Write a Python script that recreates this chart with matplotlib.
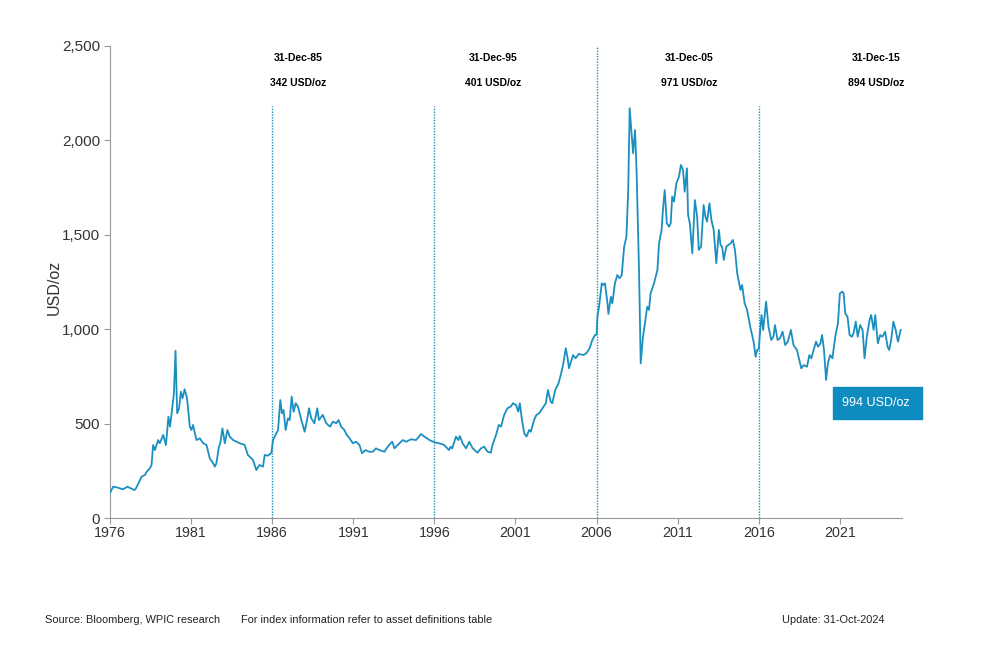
import matplotlib
matplotlib.use("Agg")
import matplotlib.pyplot as plt
from matplotlib.patches import Rectangle

plt.rcParams['font.family'] = ['Liberation Sans', 'DejaVu Sans']

# Monthly platinum price (decimal year, USD/oz)
years = [
    1976.00, 1976.20, 1976.40, 1976.80, 1977.07, 1977.50, 1977.60, 1977.95, 1978.15, 1978.26,
    1978.46, 1978.56, 1978.66, 1978.77, 1978.97, 1979.07, 1979.28, 1979.45, 1979.60, 1979.70,
    1979.80, 1979.94, 1980.04, 1980.14, 1980.26, 1980.37, 1980.47, 1980.60, 1980.75, 1980.92,
    1981.02, 1981.12, 1981.33, 1981.54, 1981.74, 1981.95, 1982.15, 1982.36, 1982.46, 1982.56,
    1982.72, 1982.80, 1982.93, 1983.08, 1983.24, 1983.38, 1983.59, 1984.00, 1984.30, 1984.50,
    1984.82, 1985.02, 1985.22, 1985.43, 1985.54, 1985.74, 1985.95, 1986.05, 1986.15, 1986.36,
    1986.50, 1986.60, 1986.70, 1986.83, 1986.97, 1987.08, 1987.20, 1987.32, 1987.45, 1987.59,
    1987.80, 1988.00, 1988.15, 1988.27, 1988.41, 1988.60, 1988.78, 1988.88, 1989.12, 1989.33,
    1989.57, 1989.74, 1989.95, 1990.09, 1990.25, 1990.45, 1990.60, 1990.77, 1990.97, 1991.17,
    1991.38, 1991.54, 1991.74, 1991.98, 1992.20, 1992.40, 1992.61, 1992.92, 1993.12, 1993.40,
    1993.54, 1993.74, 1994.05, 1994.26, 1994.56, 1994.87, 1995.18, 1995.38, 1995.70, 1996.00,
    1996.30, 1996.60, 1996.90, 1997.00, 1997.10, 1997.33, 1997.47, 1997.57, 1997.74, 1997.95,
    1998.15, 1998.36, 1998.66, 1998.87, 1999.07, 1999.28, 1999.48, 1999.58, 1999.80, 1999.97,
    2000.11, 2000.30, 2000.50, 2000.70, 2000.85, 2001.03, 2001.17, 2001.27, 2001.40, 2001.54,
    2001.68, 2001.84, 2001.94, 2002.15, 2002.29, 2002.46, 2002.66, 2002.87, 2003.00, 2003.17,
    2003.27, 2003.45, 2003.65, 2003.79, 2003.93, 2004.10, 2004.20, 2004.30, 2004.42, 2004.55,
    2004.70, 2004.90, 2005.20, 2005.40, 2005.57, 2005.74, 2005.90, 2006.00, 2006.05, 2006.15,
    2006.32, 2006.42, 2006.52, 2006.67, 2006.73, 2006.88, 2006.97, 2007.13, 2007.28, 2007.42,
    2007.55, 2007.70, 2007.84, 2007.95, 2008.04, 2008.17, 2008.25, 2008.37, 2008.47, 2008.62,
    2008.72, 2008.86, 2008.98, 2009.12, 2009.23, 2009.33, 2009.54, 2009.75, 2009.85, 2010.01,
    2010.09, 2010.20, 2010.33, 2010.47, 2010.57, 2010.66, 2010.77, 2010.92, 2011.08, 2011.20,
    2011.33, 2011.43, 2011.57, 2011.64, 2011.75, 2011.90, 2012.06, 2012.20, 2012.30, 2012.44,
    2012.60, 2012.71, 2012.81, 2012.96, 2013.08, 2013.22, 2013.38, 2013.54, 2013.64, 2013.74,
    2013.84, 2014.00, 2014.12, 2014.27, 2014.40, 2014.53, 2014.67, 2014.87, 2014.97, 2015.13,
    2015.28, 2015.49, 2015.59, 2015.70, 2015.80, 2015.90, 2016.00, 2016.07, 2016.17, 2016.27,
    2016.45, 2016.60, 2016.77, 2016.90, 2017.00, 2017.16, 2017.31, 2017.47, 2017.63, 2017.79,
    2017.98, 2018.14, 2018.35, 2018.50, 2018.62, 2018.77, 2018.97, 2019.12, 2019.24, 2019.38,
    2019.53, 2019.65, 2019.80, 2019.90, 2020.02, 2020.15, 2020.26, 2020.40, 2020.54, 2020.73,
    2020.88, 2021.00, 2021.15, 2021.23, 2021.33, 2021.47, 2021.60, 2021.74, 2021.84, 2021.98,
    2022.10, 2022.25, 2022.40, 2022.52, 2022.66, 2022.83, 2022.93, 2023.08, 2023.18, 2023.34,
    2023.48, 2023.62, 2023.79, 2023.94, 2024.04, 2024.16, 2024.30, 2024.44, 2024.58, 2024.75,
]
prices = [
    134, 166, 163, 152, 166, 148, 157, 219, 228, 245,
    263, 281, 387, 360, 413, 396, 440, 387, 537, 484,
    555, 660, 886, 555, 581, 669, 634, 682, 634, 484,
    466, 493, 413, 422, 396, 387, 316, 290, 272, 290,
    378, 396, 475, 396, 466, 431, 413, 396, 387, 334,
    307, 254, 281, 272, 334, 330, 345, 413, 431, 466,
    625, 555, 572, 466, 528, 519, 643, 563, 608, 590,
    519, 457, 519, 581, 528, 502, 581, 519, 546, 502,
    484, 510, 502, 519, 484, 466, 440, 422, 396, 404,
    387, 343, 360, 351, 351, 369, 360, 351, 378, 404,
    369, 387, 413, 404, 417, 413, 445, 431, 413, 401,
    396, 387, 360, 378, 369, 431, 413, 434, 396, 369,
    404, 369, 346, 369, 378, 351, 346, 387, 440, 493,
    484, 546, 581, 590, 608, 599, 563, 608, 519, 449,
    431, 466, 457, 519, 546, 555, 581, 608, 678, 616,
    608, 678, 713, 757, 810, 899, 854, 793, 828, 863,
    846, 869, 863, 876, 899, 943, 969, 971, 1066, 1119,
    1243, 1234, 1243, 1137, 1081, 1172, 1137, 1243, 1287, 1270,
    1287, 1437, 1490, 1737, 2170, 2020, 1932, 2055, 1826, 1296,
    819, 960, 1031, 1119, 1102, 1190, 1243, 1314, 1455, 1526,
    1632, 1737, 1561, 1543, 1561, 1702, 1676, 1773, 1808, 1870,
    1843, 1728, 1852, 1605, 1561, 1402, 1684, 1596, 1420, 1437,
    1658, 1596, 1570, 1667, 1578, 1526, 1349, 1526, 1446, 1437,
    1367, 1437, 1446, 1455, 1473, 1420, 1296, 1208, 1234, 1137,
    1102, 1005, 969, 925, 854, 890, 894, 978, 1075, 996,
    1146, 1013, 943, 960, 1022, 943, 952, 987, 916, 934,
    996, 916, 890, 837, 793, 810, 801, 863, 846, 890,
    934, 907, 925, 969, 890, 731, 819, 863, 846, 969,
    1031, 1190, 1199, 1190, 1084, 1066, 969, 960, 978, 1040,
    960, 1022, 996, 846, 960, 1049, 1075, 996, 1075, 925,
    969, 960, 987, 907, 890, 943, 1040, 996, 934, 996,
]

# Decade markers
marker_years = [1986, 1996, 2006, 2016]
marker_tops = [2180, 2180, 2500, 2180]
marker_dates = ['31-Dec-85', '31-Dec-95', '31-Dec-05', '31-Dec-15']
marker_prices = ['342 USD/oz', '401 USD/oz', '971 USD/oz', '894 USD/oz']
label_x = [1987.6, 1999.6, 2011.7, 2023.25]

xticks = list(range(1976, 2022, 5))
yticks = [0, 500, 1000, 1500, 2000, 2500]
latest = '994 USD/oz'

line_color = '#1b8fc0'

fig = plt.figure(figsize=(10, 6.53), dpi=100)
ax = fig.add_axes([0.11, 0.2067, 0.792, 0.7229])

ax.plot(years, prices, color=line_color, lw=1.3, zorder=3)

for x, top in zip(marker_years, marker_tops):
    ax.vlines(x, 0, top, colors=line_color, linestyles=(0, (1, 1)), lw=1.0, zorder=2)

for x, d, p in zip(label_x, marker_dates, marker_prices):
    ax.text(x, 2437, d, ha='center', va='center', fontsize=7.5, fontweight='bold',
            family=['Liberation Sans Narrow', 'Liberation Sans'])
    ax.text(x, 2302, p, ha='center', va='center', fontsize=7.5, fontweight='bold',
            family=['Liberation Sans Narrow', 'Liberation Sans'])

ax.set_xlim(1976, 2024.83)
ax.set_ylim(0, 2500)
ax.set_xticks(xticks)
ax.set_yticks(yticks)
ax.set_yticklabels([f'{v:,}' for v in yticks])
ax.tick_params(colors='#333333', length=4, width=0.8)
ax.tick_params(axis='y', labelsize=11, pad=3)
ax.tick_params(axis='x', labelsize=10.3, pad=2)
for s in ['top', 'right']:
    ax.spines[s].set_visible(False)
for s in ['left', 'bottom']:
    ax.spines[s].set_color('#999999')
    ax.spines[s].set_linewidth(0.8)
ax.tick_params(color='#999999')

fig.text(0.054, 1 - 287 / 653, 'USD/oz', rotation=90, ha='center', va='center',
         fontsize=11.5, color='#333333')

# latest value box
fig.patches.append(Rectangle((0.833, 1 - 419 / 653), 0.089, 32 / 653,
                             transform=fig.transFigure, color='#0f8cbf', zorder=5))
fig.text(0.876, 1 - 402.5 / 653, latest, ha='center', va='center', color='white',
         fontsize=9, zorder=6)

foot = dict(fontsize=7.9, color='#222222', va='center',
            family=['Liberation Sans Narrow', 'Liberation Sans'])
fig.text(0.045, 1 - 620 / 653, 'Source: Bloomberg, WPIC research', **foot)
fig.text(0.241, 1 - 620 / 653, 'For index information refer to asset definitions table', **foot)
fig.text(0.782, 1 - 620 / 653, 'Update: 31-Oct-2024', **foot)

fig.savefig('out.png', dpi=100)
